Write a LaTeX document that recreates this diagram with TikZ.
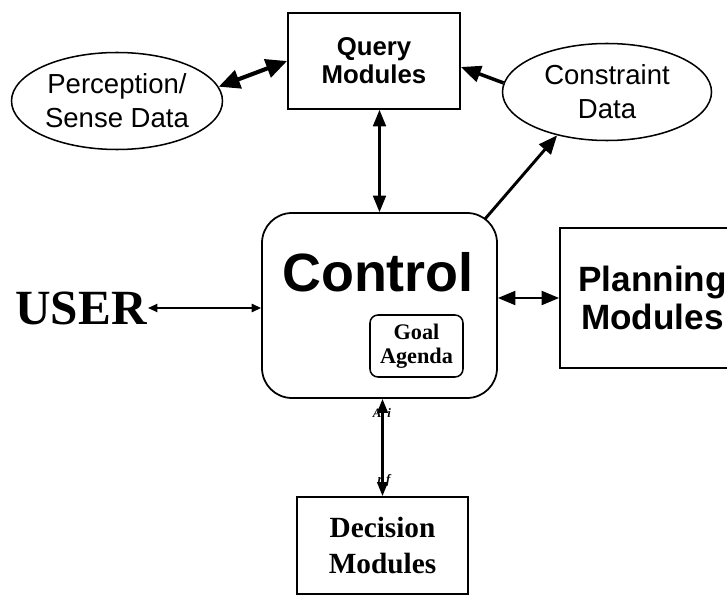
\documentclass[tikz,border=0pt]{standalone}
\usepackage{fontspec}
\setmainfont{Liberation Serif}
\setsansfont{Liberation Sans}
\usetikzlibrary{arrows.meta, shapes.geometric, calc, positioning}

\tikzset{
  modbox/.style={draw, line width=1.5pt, inner sep=0pt, align=center},
  databubble/.style={ellipse, draw, line width=1.3pt, inner sep=0pt, align=center,
    font=\sffamily\fontsize{23.5}{29}\selectfont},
  twoway/.style args={#1/#2}{{Triangle[length=#1,width=#2]}-{Triangle[length=#1,width=#2]}},
  oneway/.style args={#1/#2}{-{Triangle[length=#1,width=#2]}}
}

\begin{document}
\begin{tikzpicture}[x=0.03cm, y=-0.03cm]
\useasboundingbox (0,0) rectangle (727,596);
% modules and data
\node[modbox, minimum width=5.16cm, minimum height=2.88cm,
  font=\sffamily\bfseries\fontsize{22}{24}\selectfont] (query) at (374,61) {Query\\Modules};
\node[databubble, minimum width=6.33cm, minimum height=2.91cm] (perc) at (117,101) {Perception/\\Sense Data};
\node[databubble, minimum width=6.27cm, minimum height=2.91cm] (cons) at (607,92) {Constraint\\Data};
\node[modbox, rounded corners=0.9cm, minimum width=7.05cm, minimum height=5.55cm] (ctrl) at (379.5,305.5) {};
\node[font=\sffamily\bfseries\fontsize{46}{50}\selectfont] (ctrltitle) at (378,272) {Control};
\node[modbox, line width=1.3pt, rounded corners=0.24cm, minimum width=2.79cm, minimum height=1.86cm,
  font=\bfseries\fontsize{19}{20.5}\selectfont] (goal) at (416.5,346) {Goal\\Agenda};
\node[modbox, minimum width=5.55cm, minimum height=4.2cm,
  font=\sffamily\bfseries\fontsize{30}{33}\selectfont] (plan) at (652.5,298) {Planning\\Modules};
\node[modbox, minimum width=5.13cm, minimum height=2.91cm,
  font=\bfseries\fontsize{25}{30}\selectfont] (dec) at (382.5,545.5) {Decision\\Modules};
\node[inner sep=1pt, font=\bfseries\fontsize{42}{42}\selectfont] (user) at (81,308) {USER};
%
\coordinate (ctrlcorner) at (485,219);
\draw[line width=3.5pt, twoway=18pt/16pt] (perc.8) -- (query.west);
\draw[line width=3pt, oneway=17pt/14pt] (cons.175) -- ([yshift=-0.18cm]query.east);
\draw[line width=1.8pt, twoway=14pt/11pt] (query.south -| ctrl) -- (ctrl.north);
\draw[line width=2.5pt, oneway=16pt/13pt] (ctrlcorner) -- (cons.221);
\draw[line width=1.8pt, twoway=15pt/12pt] (ctrl.east |- plan) -- (plan.west);
\draw[line width=1.4pt, twoway=8pt/7pt] (user.east) -- (user.east -| ctrl.west);
\draw[line width=2.2pt, twoway=12pt/9pt] (ctrl.south -| dec) -- (dec.north);
\node[font=\itshape\bfseries\fontsize{11}{11}\selectfont] (ai) at (382,413) {A\hspace{5pt}i};
\node[font=\itshape\bfseries\fontsize{11}{11}\selectfont] (rf) at (384,480) {r\hspace{3pt}f};
\end{tikzpicture}
\end{document}
